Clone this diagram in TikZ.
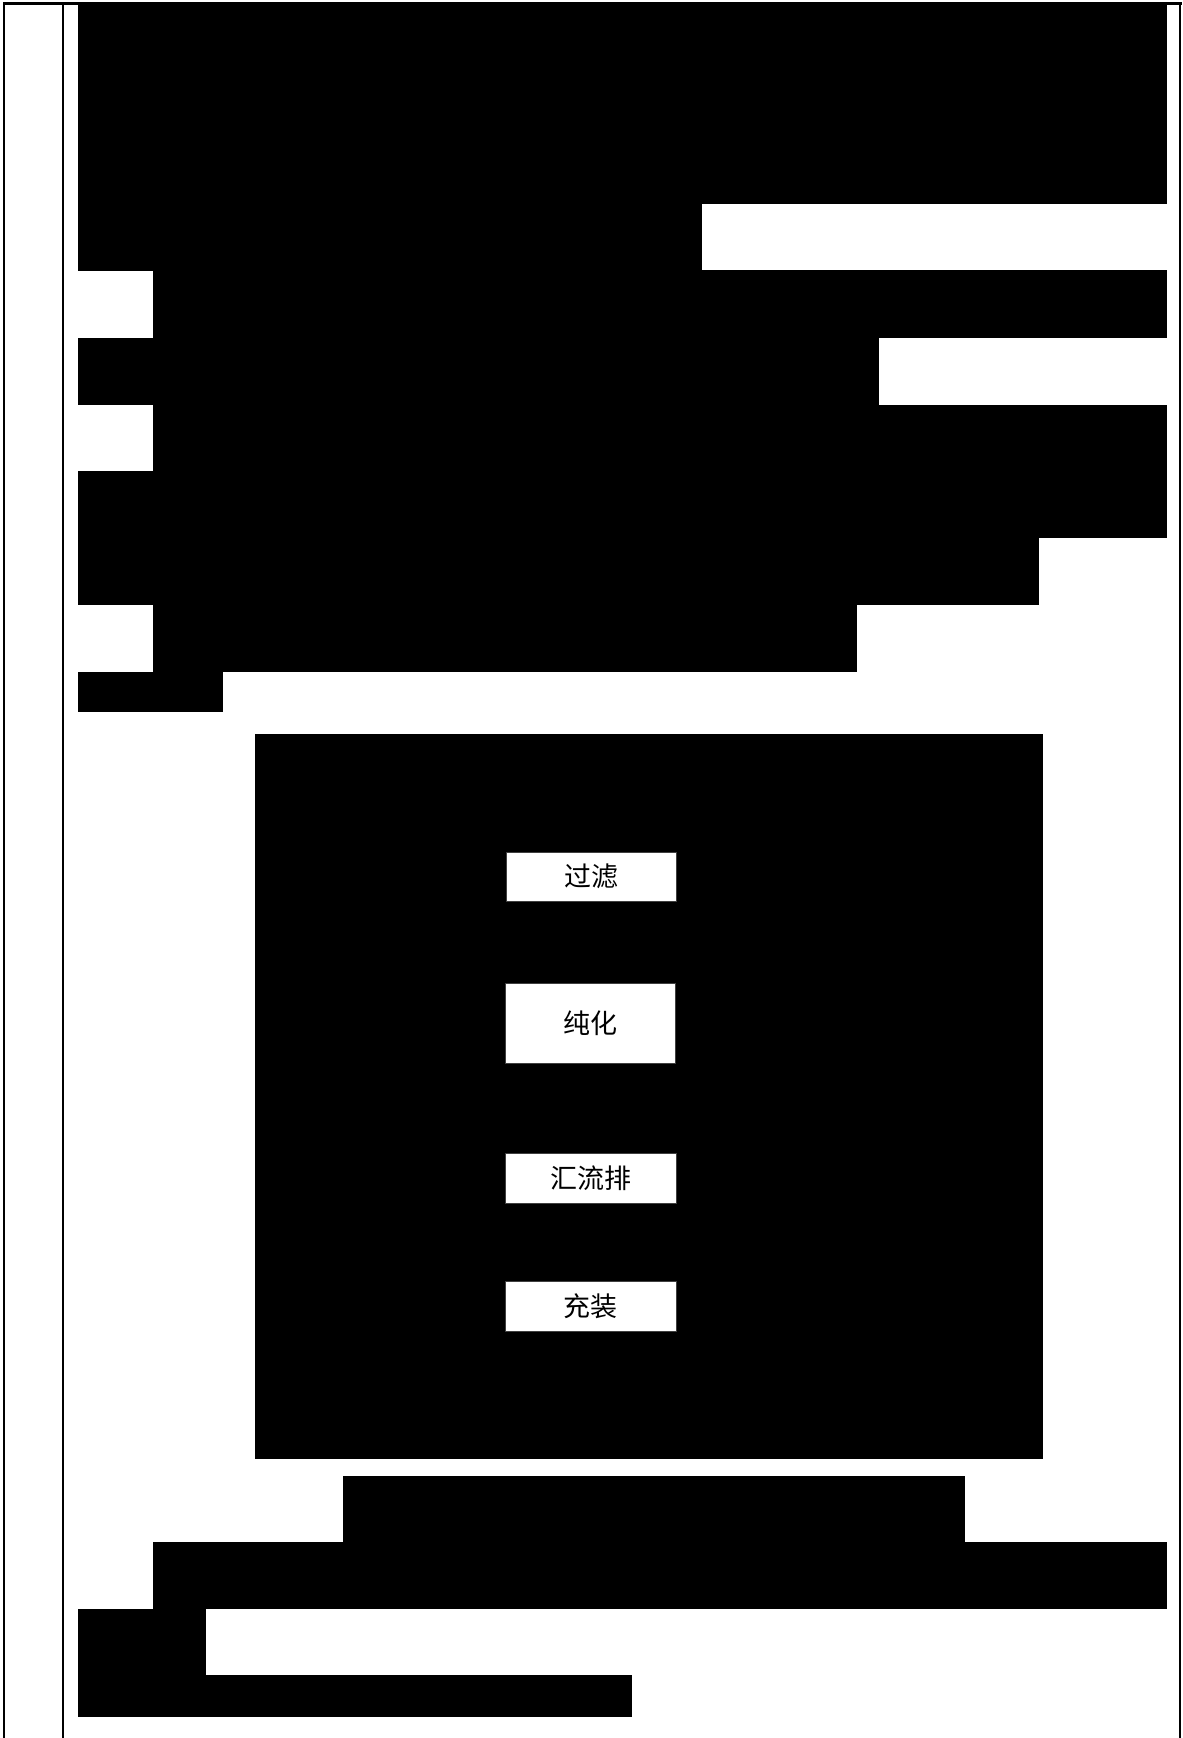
\documentclass[tikz,border=0pt]{standalone}
\usepackage{fontspec}
\newfontfamily\cjk{Noto Sans CJK SC}
\begin{document}
\begin{tikzpicture}[x=0.5pt,y=-0.5pt,
  blk/.style={fill=black},
  frameline/.style={line width=1.1pt,black},
  wbox/.style={draw=black!75,line width=0.4pt,fill=white,inner sep=0pt,
    font=\cjk\fontsize{13.5}{16}\selectfont}]
\useasboundingbox[fill=white] (0,0) rectangle (1182,1738);
% frame lines
\coordinate (tl) at (4,3.5);
\coordinate (tr) at (1180,3.5);
\coordinate (bl) at (4,1738);
\coordinate (br) at (1180,1738);
\coordinate (it) at (63,3.5);
\coordinate (ib) at (63,1738);
\draw[frameline,line width=1.5pt] (3,3.5) -- (1182,3.5);
\draw[frameline] (tl) -- (bl);
\draw[frameline,line width=1.4pt] (tr) -- (br);
\draw[frameline] (it) -- (ib);
% redacted text blocks
\fill[blk] (78,5) rectangle (1166.5,204);
\fill[blk] (78,203.5) rectangle (702,270.8);
\fill[blk] (153,270.5) rectangle (1166.5,338.5);
\fill[blk] (78,338.2) rectangle (879.3,405);
\fill[blk] (153,404.7) rectangle (1166.5,471.5);
\fill[blk] (78,471.2) rectangle (1166.5,538);
\fill[blk] (78,537.8) rectangle (1039,604.6);
\fill[blk] (153,604.3) rectangle (857.1,672.2);
\fill[blk] (78,671.9) rectangle (222.9,711.8);
% figure area
\fill[blk] (255,734) rectangle (1043.4,1459.2);
\node[wbox,minimum width=85.2pt,minimum height=24.5pt] (f1) at (591.5,876.5) {过滤};
\node[wbox,minimum width=85pt,minimum height=39.9pt] (f2) at (590.3,1023.2) {纯化};
\node[wbox,minimum width=85.2pt,minimum height=24.7pt] (f3) at (590.8,1178.3) {汇流排};
\node[wbox,minimum width=85.2pt,minimum height=24.7pt] (f4) at (590.8,1306.3) {充装};
% text after figure
\fill[blk] (342.6,1475.8) rectangle (964.7,1542.6);
\fill[blk] (153,1542.3) rectangle (1166.5,1609.2);
\fill[blk] (78,1608.9) rectangle (206.2,1675.7);
\fill[blk] (78,1675.4) rectangle (632,1717);
\end{tikzpicture}
\end{document}
